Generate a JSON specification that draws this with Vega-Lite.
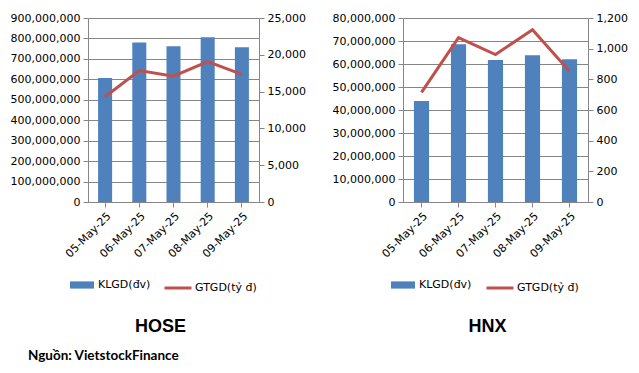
{
  "$schema": "https://vega.github.io/schema/vega-lite/v6.json",
  "padding": {"left": 10, "top": 12, "right": 5, "bottom": 5},
  "background": "white",
  "config": {
    "font": "DejaVu Sans",
    "view": {"stroke": null},
    "axis": {
      "labelFont": "DejaVu Sans",
      "labelFontSize": 11,
      "labelColor": "#000000",
      "domainColor": "#868686",
      "tickColor": "#868686",
      "gridColor": "#868686",
      "title": null,
      "labelPadding": 3,
      "tickSize": 5
    },
    "legend": {
      "labelFont": "DejaVu Sans",
      "labelFontSize": 11,
      "labelColor": "#000000",
      "title": null,
      "orient": "none",
      "direction": "horizontal",
      "padding": 0
    }
  },
  "datasets": {
    "hose": [
      {"date": "05-May-25", "klgd": 606000000, "gtgd": 14300},
      {"date": "06-May-25", "klgd": 780000000, "gtgd": 17870},
      {"date": "07-May-25", "klgd": 762000000, "gtgd": 17100},
      {"date": "08-May-25", "klgd": 806000000, "gtgd": 19090},
      {"date": "09-May-25", "klgd": 757000000, "gtgd": 17330}
    ],
    "hnx": [
      {"date": "05-May-25", "klgd": 43900000, "gtgd": 715},
      {"date": "06-May-25", "klgd": 68600000, "gtgd": 1072},
      {"date": "07-May-25", "klgd": 61700000, "gtgd": 962},
      {"date": "08-May-25", "klgd": 63800000, "gtgd": 1124},
      {"date": "09-May-25", "klgd": 62100000, "gtgd": 853}
    ]
  },
  "title": {
    "text": "Nguồn: VietstockFinance",
    "orient": "bottom",
    "anchor": "start",
    "font": "Lato",
    "fontSize": 13.5,
    "fontWeight": "bold",
    "color": "#000000",
    "dx": 18,
    "offset": 13
  },
  "spacing": 26,
  "resolve": {"scale": {"fill": "independent", "stroke": "independent"}},
  "hconcat": [
    {
      "data": {"name": "hose"},
      "width": 171,
      "height": 184,
      "title": {"text": "HOSE", "orient": "bottom", "font": "Liberation Sans", "fontSize": 18, "fontWeight": "bold", "color": "#000000", "offset": 24, "dx": -13},
      "encoding": {
        "x": {"field": "date", "type": "nominal", "sort": null, "scale": {"paddingInner": 0.59, "paddingOuter": 0.295}, "axis": {"labelAngle": -45}}
      },
      "layer": [
        {
          "mark": {"type": "bar", "color": "#4F81BD"},
          "encoding": {
            "y": {"field": "klgd", "type": "quantitative", "scale": {"domain": [0, 900000000]}, "axis": {"values": [0, 100000000, 200000000, 300000000, 400000000, 500000000, 600000000, 700000000, 800000000, 900000000], "format": ",d", "grid": true}},
            "fill": {"datum": "KLGD(đv)", "scale": {"range": ["#4F81BD"]}, "legend": {"symbolType": "M-1,-0.3H1V0.3H-1Z", "symbolSize": 576, "symbolStrokeWidth": 0, "legendX": -18, "legendY": 255}}
          }
        },
        {
          "mark": {"type": "line", "strokeWidth": 3, "color": "#C0504D"},
          "encoding": {
            "y": {"field": "gtgd", "type": "quantitative", "scale": {"domain": [0, 25000]}, "axis": {"orient": "right", "values": [0, 5000, 10000, 15000, 20000, 25000], "format": ",d", "grid": false}},
            "stroke": {"datum": "GTGD(tỷ đ)", "scale": {"range": ["#C0504D"]}, "legend": {"symbolType": "stroke", "symbolSize": 729, "symbolStrokeWidth": 3, "labelOffset": 2, "legendX": 75, "legendY": 255}}
          }
        }
      ],
      "resolve": {"scale": {"y": "independent"}}
    },
    {
      "data": {"name": "hnx"},
      "width": 185,
      "height": 184,
      "title": {"text": "HNX", "orient": "bottom", "font": "Liberation Sans", "fontSize": 18, "fontWeight": "bold", "color": "#000000", "offset": 24, "dx": -8},
      "encoding": {
        "x": {"field": "date", "type": "nominal", "sort": null, "scale": {"paddingInner": 0.59, "paddingOuter": 0.295}, "axis": {"labelAngle": -45}}
      },
      "layer": [
        {
          "mark": {"type": "bar", "color": "#4F81BD"},
          "encoding": {
            "y": {"field": "klgd", "type": "quantitative", "scale": {"domain": [0, 80000000]}, "axis": {"values": [0, 10000000, 20000000, 30000000, 40000000, 50000000, 60000000, 70000000, 80000000], "format": ",d", "grid": true}},
            "fill": {"datum": "KLGD(đv)", "scale": {"range": ["#4F81BD"]}, "legend": {"symbolType": "M-1,-0.3H1V0.3H-1Z", "symbolSize": 576, "symbolStrokeWidth": 0, "legendX": -12, "legendY": 255}}
          }
        },
        {
          "mark": {"type": "line", "strokeWidth": 3, "color": "#C0504D"},
          "encoding": {
            "y": {"field": "gtgd", "type": "quantitative", "scale": {"domain": [0, 1200]}, "axis": {"orient": "right", "values": [0, 200, 400, 600, 800, 1000, 1200], "format": ",d", "grid": false}},
            "stroke": {"datum": "GTGD(tỷ đ)", "scale": {"range": ["#C0504D"]}, "legend": {"symbolType": "stroke", "symbolSize": 729, "symbolStrokeWidth": 3, "labelOffset": 2, "legendX": 82, "legendY": 255}}
          }
        }
      ],
      "resolve": {"scale": {"y": "independent"}}
    }
  ]
}
